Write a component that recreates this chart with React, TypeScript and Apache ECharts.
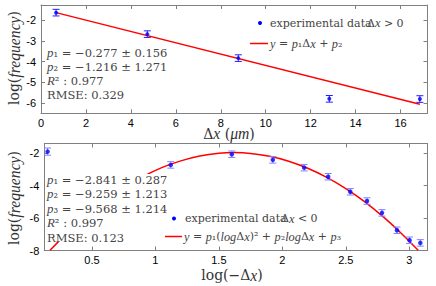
import React, { useEffect, useRef } from "react";
import * as echarts from "echarts";

// ---- data ----
const topX = [0.67, 4.73, 8.78, 12.83, 16.86];
const topY = [-1.63, -2.67, -3.83, -5.8, -5.81];
const topErr = [0.16, 0.16, 0.16, 0.16, 0.16];
const topFitX = [0.67, 16.86];
const topFitY = [-1.63, -6.06];

const botX = [0.151, 1.121, 1.602, 1.925, 2.172, 2.361, 2.535, 2.667, 2.785, 2.903, 3.002, 3.087];
const botY = [-1.9, -2.72, -2.06, -2.41, -2.89, -3.45, -4.38, -4.95, -5.68, -6.75, -7.37, -7.53];
const botErr = [0.22, 0.2, 0.2, 0.2, 0.2, 0.2, 0.2, 0.2, 0.2, 0.2, 0.2, 0.2];
const botFitX = [0.17, 0.3, 0.45, 0.6, 0.75, 0.9, 1.05, 1.2, 1.35, 1.5, 1.62, 1.75, 1.9, 2.05, 2.2, 2.35, 2.5, 2.65, 2.8, 2.95, 3.07];
const botFitY = [-7.99, -6.96, -5.89, -4.95, -4.13, -3.45, -2.89, -2.47, -2.17, -2.0, -1.96, -2.01, -2.19, -2.49, -2.93, -3.49, -4.18, -5.0, -5.96, -7.04, -7.99];

const topXTicks = [0, 2, 4, 6, 8, 10, 12, 14, 16];
const topYTicks = [-6, -5, -4, -3, -2];
const botXTicks = [0.5, 1, 1.5, 2, 2.5, 3];
const botYTicks = [-8, -6, -4, -2];

const topAnno = [
  "{i|p}₁ = −0.277 ± 0.156",
  "{i|p}₂ = −1.216 ± 1.271",
  "{i|R}² : 0.977",
  "RMSE: 0.329",
];
const botAnno = [
  "{i|p}₁ = −2.841 ± 0.287",
  "{i|p}₂ = −9.259 ± 1.213",
  "{i|p}₃ = −9.568 ± 1.214",
  "{i|R}² : 0.997",
  "RMSE: 0.123",
];

const SERIF = "DejaVu Serif";
const ITAL = "Liberation Serif";
const SANS = "Liberation Sans";
const AXIS_GRAY = "#808080";
const TXT = "#444";

function rich(size: number, color: string) {
  return {
    i: { fontStyle: "italic", fontFamily: ITAL, fontSize: size * 1.12, fill: color, color },
  };
}

function mkAxis(kind: "x" | "y", gridIndex: number, min: number, max: number, ticks: number[], position: string, labels: boolean) {
  return {
    type: "value",
    gridIndex,
    min,
    max,
    position,
    axisLine: { show: true, onZero: false, lineStyle: { color: AXIS_GRAY, width: 1 } },
    axisTick: { show: true, inside: true, length: 4, customValues: ticks, lineStyle: { color: AXIS_GRAY } },
    axisLabel: {
      show: labels,
      customValues: ticks,
      margin: kind === "x" ? 4 : 5,
      color: "#000",
      fontFamily: SANS,
      fontSize: 11,
      formatter: (v: number) => String(v),
    },
    splitLine: { show: false },
  };
}

function errRender(color: string) {
  return (params: any, api: any) => {
    const x = api.value(0);
    const y = api.value(1);
    const e = api.value(2);
    const c = api.coord([x, y]);
    const t = api.coord([x, y + e]);
    const b = api.coord([x, y - e]);
    const w = 3.5;
    const style = { stroke: color, lineWidth: 1 };
    return {
      type: "group",
      children: [
        { type: "line", shape: { x1: c[0], y1: t[1], x2: c[0], y2: b[1] }, style },
        { type: "line", shape: { x1: c[0] - w, y1: t[1], x2: c[0] + w, y2: t[1] }, style },
        { type: "line", shape: { x1: c[0] - w, y1: b[1], x2: c[0] + w, y2: b[1] }, style },
      ],
    };
  };
}

function txt(x: number, y: number, text: string, size: number, color: string, extra: any = {}) {
  return {
    type: "text",
    x,
    y,
    z: 100,
    style: {
      text,
      fontFamily: SERIF,
      fontSize: size,
      fill: color,
      verticalAlign: "middle",
      align: "left",
      rich: rich(size, color),
      ...extra,
    },
  };
}

export default function App() {
  const ref = useRef<HTMLDivElement>(null);
  useEffect(() => {
    const chart = echarts.init(ref.current!, null, { renderer: "svg" });
    const option: any = {
      animation: false,
      backgroundColor: "#fff",
      grid: [
        { left: 41, top: 5, width: 386.5, height: 108.3 },
        { left: 44.3, top: 143.5, width: 383.4, height: 107 },
      ],
      xAxis: [
        mkAxis("x", 0, 0, 17.2, topXTicks, "bottom", true),
        mkAxis("x", 0, 0, 17.2, topXTicks, "top", false),
        mkAxis("x", 1, 0.125, 3.145, botXTicks, "bottom", true),
        mkAxis("x", 1, 0.125, 3.145, botXTicks, "top", false),
      ],
      yAxis: [
        mkAxis("y", 0, -6.5, -1.26, topYTicks, "left", true),
        mkAxis("y", 0, -6.5, -1.26, topYTicks, "right", false),
        mkAxis("y", 1, -8, -1.4, botYTicks, "left", true),
        mkAxis("y", 1, -8, -1.4, botYTicks, "right", false),
      ],
      series: [
        {
          type: "line",
          xAxisIndex: 0,
          yAxisIndex: 0,
          data: topFitX.map((x, i) => [x, topFitY[i]]),
          showSymbol: false,
          lineStyle: { color: "#ff0000", width: 1.5 },
          z: 2,
        },
        {
          type: "custom",
          xAxisIndex: 0,
          yAxisIndex: 0,
          renderItem: errRender("#2020ff"),
          data: topX.map((x, i) => [x, topY[i], topErr[i]]),
          encode: { x: 0, y: 1 },
          z: 3,
        },
        {
          type: "scatter",
          xAxisIndex: 0,
          yAxisIndex: 0,
          data: topX.map((x, i) => [x, topY[i]]),
          symbolSize: 4,
          itemStyle: { color: "#0000ff" },
          z: 4,
        },
        {
          type: "line",
          xAxisIndex: 2,
          yAxisIndex: 2,
          data: botFitX.map((x, i) => [x, botFitY[i]]),
          showSymbol: false,
          smooth: 0.3,
          lineStyle: { color: "#ff0000", width: 1.5 },
          z: 2,
        },
        {
          type: "custom",
          xAxisIndex: 2,
          yAxisIndex: 2,
          renderItem: errRender("#8080ff"),
          data: botX.map((x, i) => [x, botY[i], botErr[i]]),
          encode: { x: 0, y: 1 },
          z: 3,
        },
        {
          type: "scatter",
          xAxisIndex: 2,
          yAxisIndex: 2,
          data: botX.map((x, i) => [x, botY[i]]),
          symbolSize: 4.5,
          itemStyle: { color: "#0000ff" },
          z: 4,
        },
      ],
      graphic: [
        // annotation box (white background)
        { type: "rect", z: 90, shape: { x: 45, y: 174, width: 121, height: 67.5 }, style: { fill: "#fff" } },
        ...topAnno.map((t, i) => txt(47, 53.3 + i * 14, t, 11.5, TXT)),
        ...botAnno.map((t, i) => txt(47, 180 + i * 14.4, t, 11.5, TXT)),
        // top legend
        { type: "circle", z: 100, shape: { cx: 260, cy: 23, r: 2 }, style: { fill: "#0000ff" } },
        txt(270, 23, "experimental data", 11, TXT),
        txt(367, 23, "Δ{i|x} > 0", 11, TXT),
        { type: "line", z: 100, shape: { x1: 250, y1: 43.5, x2: 268, y2: 43.5 }, style: { stroke: "#ff0000", lineWidth: 1.5 } },
        txt(270, 43.5, "{i|y} = {i|p}₁Δ{i|x} + {i|p}₂", 11, TXT),
        // bottom legend
        { type: "circle", z: 100, shape: { cx: 174, cy: 218.5, r: 2 }, style: { fill: "#0000ff" } },
        txt(185, 218.5, "experimental data", 11, TXT),
        txt(281, 218.5, "Δ{i|x} < 0", 11, TXT),
        { type: "line", z: 100, shape: { x1: 165, y1: 236.5, x2: 182, y2: 236.5 }, style: { stroke: "#ff0000", lineWidth: 1.5 } },
        txt(184, 236.5, "{i|y} = {i|p}₁({i|log}Δ{i|x})² + {i|p}₂{i|log}Δ{i|x} + {i|p}₃", 11, TXT),
        // axis titles
        {
          type: "text",
          z: 100,
          x: 14,
          y: 58,
          rotation: Math.PI / 2,
          style: {
            text: "log({i|frequency})",
            fontFamily: SERIF,
            fontSize: 14,
            fill: "#333",
            align: "center",
            verticalAlign: "middle",
            rich: rich(14, "#333"),
          },
        },
        {
          type: "text",
          z: 100,
          x: 14,
          y: 198,
          rotation: Math.PI / 2,
          style: {
            text: "log({i|frequency})",
            fontFamily: SERIF,
            fontSize: 14,
            fill: "#333",
            align: "center",
            verticalAlign: "middle",
            rich: rich(14, "#333"),
          },
        },
        txt(229, 133.5, "Δ{i|x} ({i|μm})", 14, "#333", { align: "center" }),
        txt(232, 275, "log(−Δ{i|x})", 14, "#333", { align: "center" }),
      ],
    };
    chart.setOption(option);
    return () => chart.dispose();
  }, []);
  return <div ref={ref} style={{ width: 436, height: 286, position: "absolute", left: 0, top: 0 }} />;
}
